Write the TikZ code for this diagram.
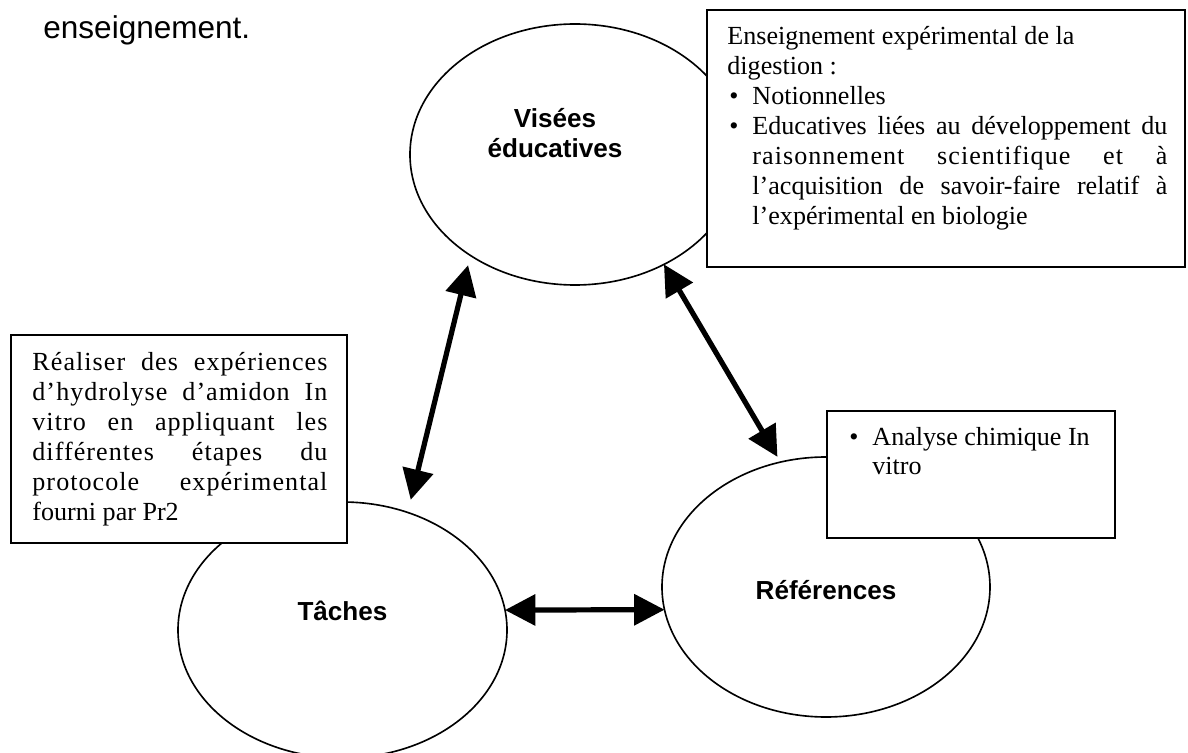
\documentclass[tikz,border=0pt]{standalone}
\usepackage{fontspec}
\setmainfont{Liberation Serif}
\newfontfamily\arialfont{Liberation Sans}
\newfontfamily\widefont[LetterSpace=4]{Liberation Serif}
\usepackage{tikz}
\usetikzlibrary{shapes}
\usetikzlibrary{arrows.meta}
\newdimen\pxu \pxu=0.46pt
\newcommand{\pole}[5]{\node[shape=ellipse,draw,line width=0.75pt,inner sep=0pt,outer sep=0pt,minimum width=#4,minimum height=#5] (#1) at ( #2 , #3 ) {};}
\newcommand{\plainspace}{\spaceskip=0pt\xspaceskip=0pt\relax}
\newcommand{\bulitem}{\makebox[25\pxu][l]{\hspace{2\pxu}•}}
\newcommand{\indline}{\hspace*{25\pxu}}
\newcommand{\justline}[2]{\makebox[#1\pxu][s]{\plainspace #2}}
\newcommand{\justwide}[2]{\makebox[#1\pxu][s]{\widefont\plainspace #2}}

\begin{document}
\begin{tikzpicture}[x=0.46pt,y=-0.46pt,
  font=\fontsize{12pt}{13.8pt}\selectfont,
  box/.style={draw,fill=white,line width=0.75pt,anchor=north west,inner sep=0pt,outer sep=0pt},
  boxtext/.style={anchor=base west,inner sep=0pt,align=left},
  polename/.style={font=\arialfont\bfseries\fontsize{12pt}{13.8pt}\selectfont,anchor=base,inner sep=0pt,align=center,text width=140pt},
  dbl/.style={line width=2.4pt,{Triangle[length=14pt,width=14pt]}-{Triangle[length=14pt,width=14pt]}}]
\useasboundingbox (0,0) rectangle (1188,753);
% end of the sentence above
\node[font=\arialfont\fontsize{14.5pt}{16pt}\selectfont,anchor=base west,inner sep=0pt] (prev) at (43,39) {enseignement.};
% the three poles
\pole{vis}{575}{154.5}{151.8pt}{120.06pt}
\pole{tach}{342.5}{630}{151.34pt}{117.76pt}
\pole{ref}{826}{587}{150.88pt}{119.6pt}
% boxes
\node[box,minimum width=219.88pt,minimum height=118.22pt] (visbox) at (707,10) {};
\node[box,minimum width=154.56pt,minimum height=95.68pt] (tachbox) at (11,335) {};
\node[box,minimum width=132.48pt,minimum height=58.42pt] (refbox) at (827,411) {};
% box texts
\node[boxtext,text width=202.4pt] (vistext) at (727,45) {\plainspace Enseignement expérimental de la\\
digestion :\\
\bulitem Notionnelles\\
\bulitem\justline{415}{Educatives liées au développement du}\\
\indline\justwide{415}{raisonnement scientifique et à}\\
\indline\justline{415}{l’acquisition de savoir-faire relatif à}\\
\indline l’expérimental en biologie};
\node[boxtext,text width=135.7pt] (tachtext) at (32,371) {\plainspace\justwide{295}{Réaliser des expériences}\\
\justwide{295}{d’hydrolyse d’amidon In}\\
\justwide{295}{vitro en appliquant les}\\
\justwide{295}{différentes étapes du}\\
\justwide{295}{protocole expérimental}\\
fourni par Pr2};
\node[boxtext,text width=125pt] (reftext) at (847,445) {\plainspace\bulitem Analyse chimique In\\
\indline vitro};
% pole names
\node[polename] (visname) at (555,128) {Visées\\éducatives};
\node[polename] (tachname) at (342.5,620) {Tâches};
\node[polename] (refname) at (826,599) {Références};
% links
\draw[dbl,shorten <=4.6pt,shorten >=6pt] (vis.224) -- (tach.61);
\draw[dbl,shorten >=2.8pt] (vis.309) -- (ref.110);
\draw[dbl] (tach.7) -- (ref.188);
\end{tikzpicture}
\end{document}
